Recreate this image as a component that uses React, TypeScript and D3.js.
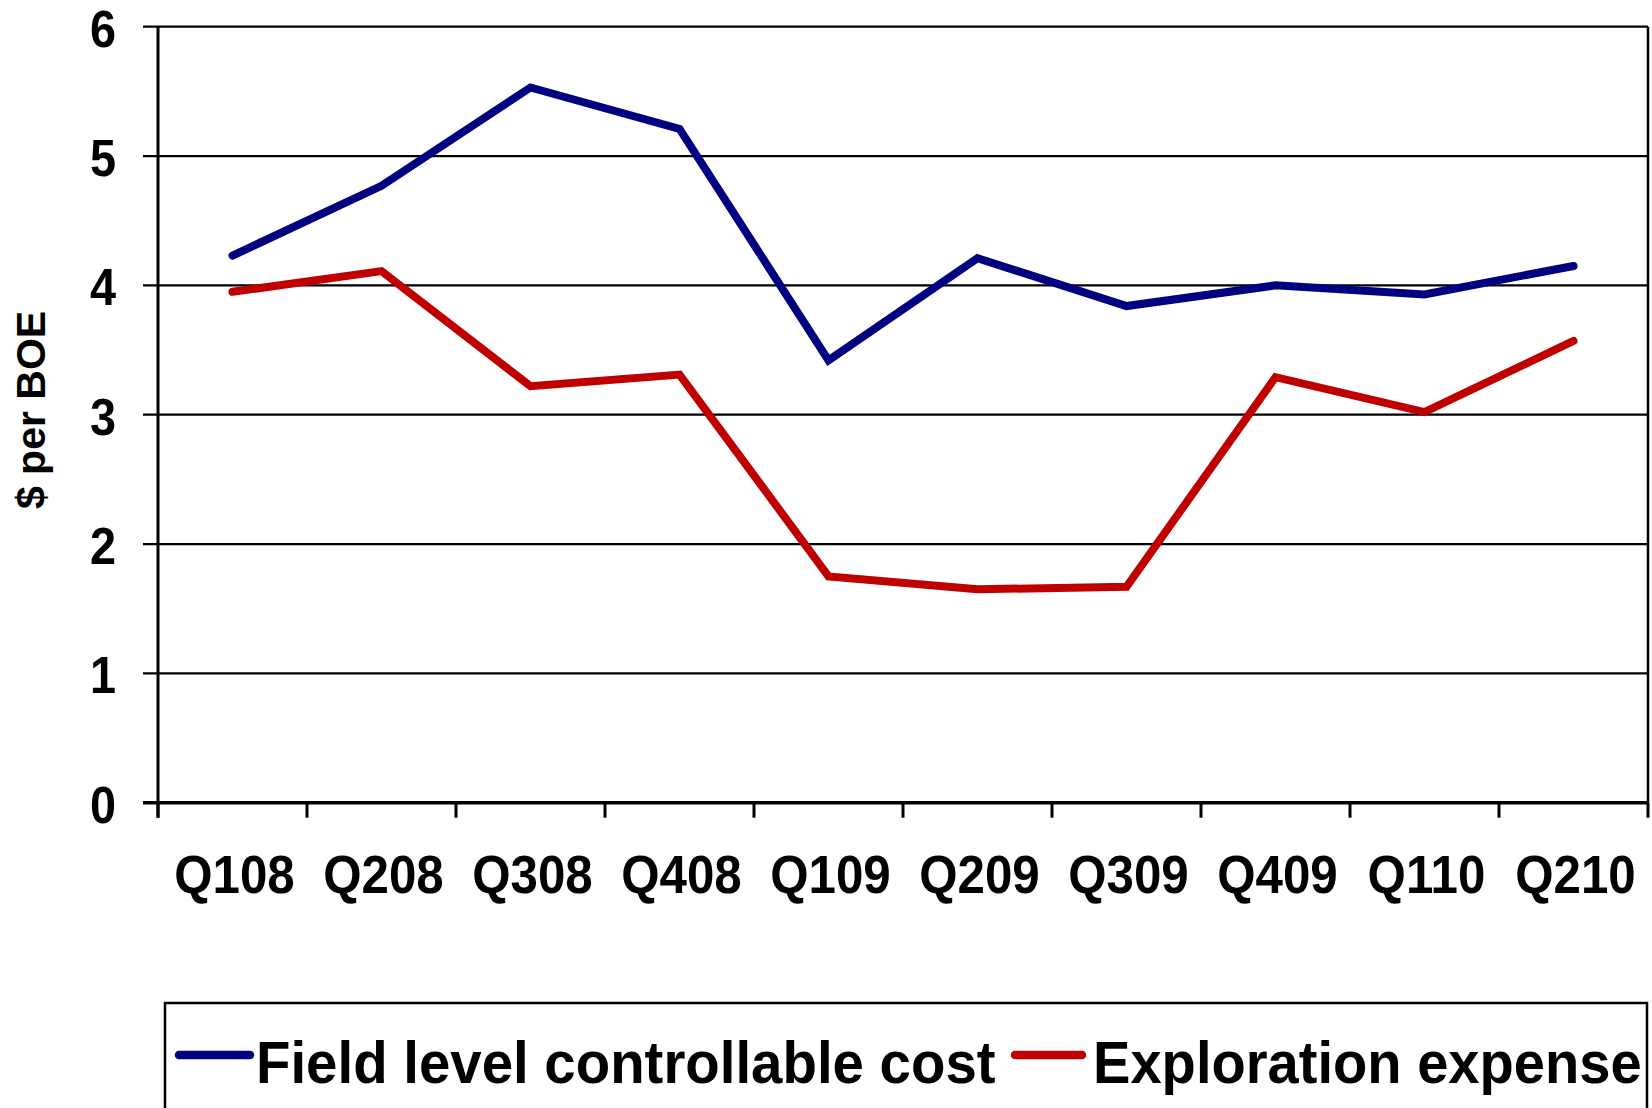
import React from "react";
import * as d3 from "d3";

// quarters on the x axis
const quarters = ["Q108", "Q208", "Q308", "Q408", "Q109", "Q209", "Q309", "Q409", "Q110", "Q210"];

// $ per BOE
const fieldCost = [4.23, 4.77, 5.53, 5.21, 3.42, 4.21, 3.84, 4.0, 3.93, 4.15];
const explorationExpense = [3.95, 4.11, 3.22, 3.31, 1.75, 1.65, 1.67, 3.29, 3.02, 3.57];

const yTicks = [0, 1, 2, 3, 4, 5, 6];

const seriesNames = ["Field level controllable cost", "Exploration expense"];
const seriesColors = ["#000080", "#C00000"];

const FONT = "'Liberation Sans', Arial, Helvetica, sans-serif";

// text slightly squeezed sideways, like the original's rendering
const Label = ({ x, y, size, anchor = "start", sx = 0.9, children }: any) => (
  <text transform={`translate(${x},${y}) scale(${sx},1)`} textAnchor={anchor} fontSize={size}>
    {children}
  </text>
);

export default function App() {
  const width = 1652,
    height = 1108;
  const left = 158,
    right = 1648,
    top = 26.7,
    bottom = 802.7;

  const x = d3.scaleBand().domain(quarters).range([left, right]);
  const y = d3.scaleLinear().domain([0, 6]).range([bottom, top]);

  const line = d3
    .line<number>()
    .x((_, i) => (x(quarters[i]) as number) + x.bandwidth() / 2)
    .y((d) => y(d));

  const series = [fieldCost, explorationExpense];

  // band edges for the x tick marks
  const xEdges = quarters.map((q) => x(q) as number).concat([right]);

  return (
    <svg
      width={width}
      height={height}
      style={{ position: "absolute", left: 0, top: 0, background: "#fff" }}
      fontFamily={FONT}
      fontWeight="bold"
    >
      {/* gridlines + y ticks */}
      {yTicks.map((t) => (
        <line key={"g" + t} x1={left - 15} x2={right} y1={y(t)} y2={y(t)} stroke="#000" strokeWidth={t === 0 ? 3.5 : 2.2} />
      ))}
      {yTicks.map((t) => (
        <Label key={"yl" + t} x={116} y={y(t) + 20} size={52} anchor="end">
          {t}
        </Label>
      ))}

      {/* axes + frame */}
      <line x1={left} x2={left} y1={top} y2={bottom + 15} stroke="#000" strokeWidth={3} />
      <line x1={right} x2={right} y1={top} y2={bottom} stroke="#000" strokeWidth={2.5} />
      {xEdges.map((e, i) => (
        <line key={"xt" + i} x1={e} x2={e} y1={bottom} y2={bottom + 15} stroke="#000" strokeWidth={3} />
      ))}
      {quarters.map((q) => (
        <Label key={q} x={(x(q) as number) + x.bandwidth() / 2 + 2} y={893} size={53} sx={0.93} anchor="middle">
          {q}
        </Label>
      ))}

      {/* y title */}
      <text transform="translate(45,410) rotate(-90)" textAnchor="middle" fontSize={41}>
        $ per BOE
      </text>

      {/* series lines */}
      {series.map((s, i) => (
        <path
          key={"s" + i}
          d={line(s) || ""}
          fill="none"
          stroke={seriesColors[i]}
          strokeWidth={8}
          strokeLinecap="round"
          strokeLinejoin="miter"
        />
      ))}

      {/* legend */}
      <rect x={165} y={1003} width={1482} height={200} fill="none" stroke="#000" strokeWidth={2.5} />
      <line x1={179} x2={250} y1={1055} y2={1055} stroke={seriesColors[0]} strokeWidth={8.5} strokeLinecap="round" />
      <Label x={256} y={1083} size={60} sx={0.94}>
        {seriesNames[0]}
      </Label>
      <line x1={1015} x2={1082} y1={1055} y2={1055} stroke={seriesColors[1]} strokeWidth={8.5} strokeLinecap="round" />
      <Label x={1093} y={1083} size={60} sx={0.935}>
        {seriesNames[1]}
      </Label>
    </svg>
  );
}
